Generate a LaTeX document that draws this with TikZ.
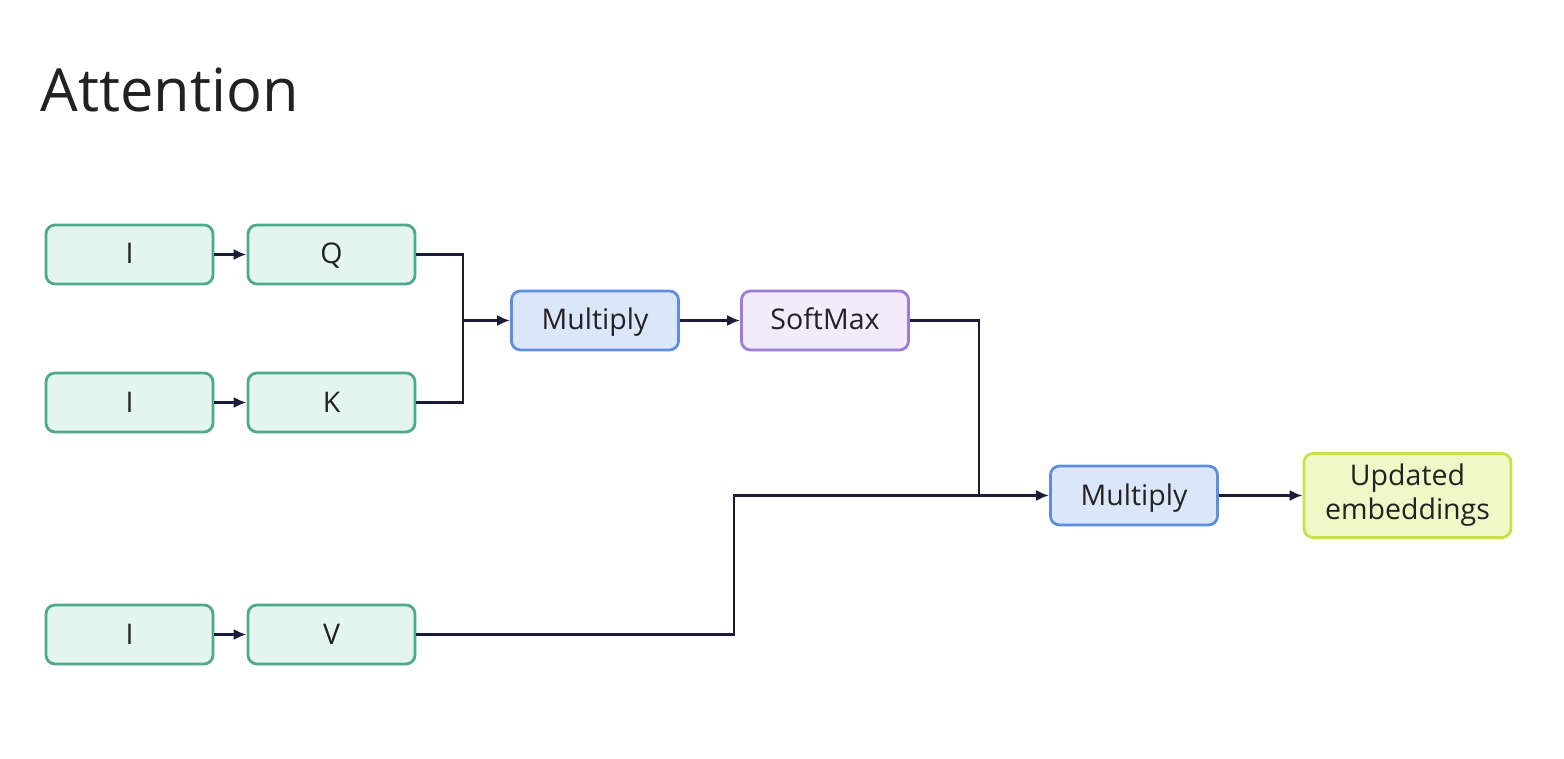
\documentclass[tikz,border=0pt]{standalone}
\usepackage{fontspec}
\setmainfont{Open Sans}
\usetikzlibrary{arrows.meta}
\definecolor{gfill}{HTML}{E3F5EE}
\definecolor{gdraw}{HTML}{4FAA8C}
\definecolor{bfill}{HTML}{DCE6FB}
\definecolor{bdraw}{HTML}{5B8DE0}
\definecolor{pfill}{HTML}{F1EBFC}
\definecolor{pdraw}{HTML}{9B7BDB}
\definecolor{yfill}{HTML}{F1F8C8}
\definecolor{ydraw}{HTML}{C8E04A}
\definecolor{linec}{HTML}{1C1C3A}
\definecolor{txt}{HTML}{222222}
\begin{document}
\begin{tikzpicture}[x=1pt,y=-1pt,
  box/.style={rounded corners=9pt, line width=2.8pt, minimum width=167pt, minimum height=59pt,
     inner sep=0pt, font=\fontsize{28.5}{34}\selectfont, text=txt, align=center},
  sbox/.style={box, text height=22pt, text depth=3pt},
  gbox/.style={sbox, fill=gfill, draw=gdraw},
  bbox/.style={sbox, fill=bfill, draw=bdraw},
  pbox/.style={sbox, fill=pfill, draw=pdraw},
  ybox/.style={box, fill=yfill, draw=ydraw, minimum width=207pt, minimum height=84pt},
  conn/.style={draw=linec, line width=2.4pt},
  arr/.style={conn, -{Latex[length=13pt,width=11pt]}}]
\useasboundingbox (0,0) rectangle (1564,759);
\node[anchor=base west, font=\fontsize{59.5}{64}\selectfont, text=txt] (title) at (37,112) {Attention};

\node[gbox] (i1) at (129.5,254.5) {I};
\node[gbox] (q)  at (331.5,254.5) {Q};
\node[gbox] (i2) at (129.5,402.5) {I};
\node[gbox] (k)  at (331.5,402.5) {K};
\node[gbox] (i3) at (129.5,634.5) {I};
\node[gbox] (v)  at (331.5,634.5) {V};
\node[bbox] (m1) at (595,320.5) {Multiply};
\node[pbox] (sm) at (825,320.5) {SoftMax};
\node[bbox] (m2) at (1134,495.5) {Multiply};
\node[ybox] (up) at (1407.5,495.5) {Updated\\embeddings};

\coordinate (j1) at (463,320.5);
\coordinate (j2) at (979,495.5);
\draw[arr] (i1) -- (q);
\draw[arr] (i2) -- (k);
\draw[arr] (i3) -- (v);
\draw[conn] (q.east) -| (j1);
\draw[conn] (k.east) -| (j1);
\draw[arr] (j1) -- (m1.west);
\draw[arr] (m1) -- (sm);
\draw[conn] (sm.east) -| (j2);
\draw[conn] (v.east) -| (734,495.5) -- (j2);
\draw[arr] (j2) -- (m2.west);
\draw[arr] (m2.east) -- (m2.east -| up.west);
\end{tikzpicture}
\end{document}
